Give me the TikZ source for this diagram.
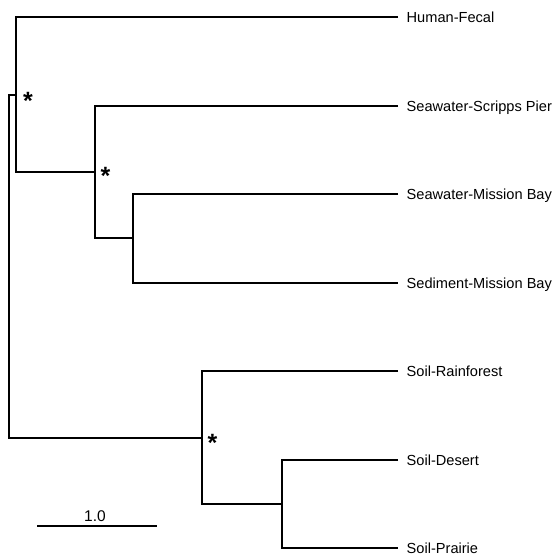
\documentclass[tikz,border=0pt]{standalone}
\usepackage{fontspec}
\setmainfont{Liberation Sans}
\begin{document}
\begin{tikzpicture}[
  x=1pt, y=-1pt,
  branch/.style={line width=2pt, line join=miter},
  leaf/.style={anchor=west, inner xsep=8.5pt, inner ysep=0pt,
    text height=10.3pt, text depth=0pt, font=\fontsize{14.6}{16}\selectfont},
  support/.style={anchor=base, inner sep=0pt, font=\bfseries\fontsize{25}{25}\selectfont},
  barlabel/.style={anchor=base, inner sep=0pt, font=\fontsize{15.5}{17}\selectfont}
]
\useasboundingbox (0,0) rectangle (554,557);

% leaves
\node[leaf] (hf)  at (398,17)  {Human-Fecal};
\node[leaf] (sp)  at (398,106) {Seawater-Scripps Pier};
\node[leaf] (smb) at (398,194) {Seawater-Mission Bay};
\node[leaf] (sed) at (398,283) {Sediment-Mission Bay};
\node[leaf] (rf)  at (398,371) {Soil-Rainforest};
\node[leaf] (de)  at (398,460) {Soil-Desert};
\node[leaf] (pr)  at (398,548) {Soil-Prairie};

% internal nodes
\coordinate (nD) at (133,238);
\coordinate (nC) at (95,172);
\coordinate (nB) at (16,95);
\coordinate (nF) at (282,504);
\coordinate (nE) at (202,438);
\coordinate (nR) at (9,266);

% branches
\draw[branch] (smb.west) -| (nD) |- (sed.west);
\draw[branch] (sp.west) -| (nC) |- (nD);
\draw[branch] (hf.west) -| (nB) |- (nC);
\draw[branch] (de.west) -| (nF) |- (pr.west);
\draw[branch] (rf.west) -| (nE) |- (nF);
\draw[branch] (nB) -| (nR) |- (nE);

% support marks
\node[support] (sB) at ([xshift=12pt,yshift=-14pt]nB) {*};
\node[support] (sC) at ([xshift=10.5pt,yshift=-12pt]nC) {*};
\node[support] (sE) at ([xshift=10.5pt,yshift=-13pt]nE) {*};

% scale bar
\coordinate (bL) at (37,526);
\coordinate (bR) at (157,526);
\draw[branch] (bL) -- (bR);
\node[barlabel] (bt) at (95,521.7) {1.0};
\end{tikzpicture}
\end{document}
